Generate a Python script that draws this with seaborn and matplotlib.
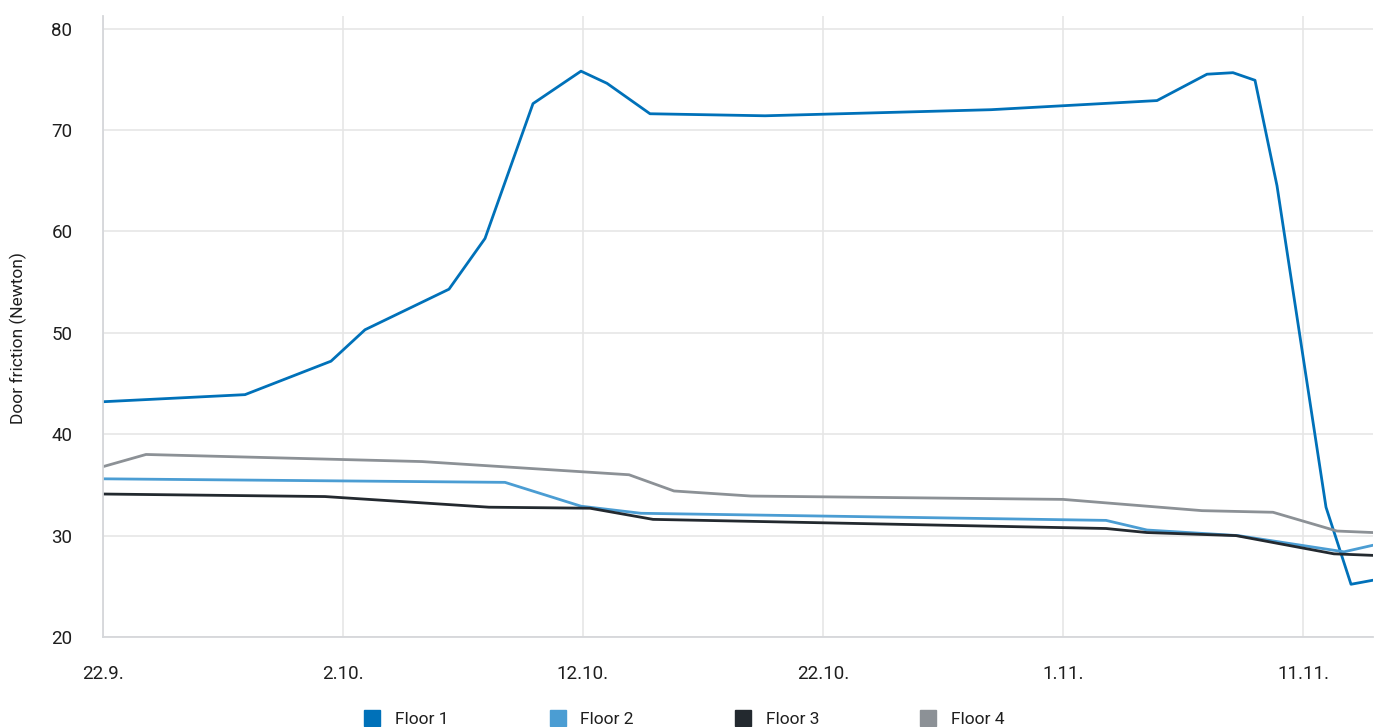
import pandas as pd
import matplotlib.pyplot as plt
from matplotlib.lines import Line2D
import seaborn as sns

# Series (date, Newton)
floor1_dates = [
    "2021-09-22 00:00", "2021-09-27 22:00", "2021-10-01 12:00", "2021-10-02 22:00",
    "2021-10-06 10:00", "2021-10-07 22:00", "2021-10-09 22:00", "2021-10-11 22:00",
    "2021-10-13 00:00", "2021-10-14 19:00", "2021-10-19 14:00", "2021-10-29 00:00",
    "2021-11-04 22:00", "2021-11-07 00:00", "2021-11-08 02:00", "2021-11-09 00:00",
    "2021-11-09 22:00", "2021-11-11 23:00", "2021-11-13 00:00", "2021-11-13 22:00",
]
floor1_values = [
    43.2, 43.9, 47.2, 50.3, 54.3, 59.3, 72.6, 75.8, 74.6, 71.6,
    71.4, 72.0, 72.9, 75.5, 75.65, 74.9, 64.5, 32.8, 25.2, 25.6,
]

floor2_dates = [
    "2021-09-22 00:00", "2021-10-08 18:00", "2021-10-11 22:00", "2021-10-14 10:00",
    "2021-11-02 19:00", "2021-11-04 12:00", "2021-11-08 07:00", "2021-11-12 17:00",
    "2021-11-13 22:00",
]
floor2_values = [35.6, 35.25, 32.9, 32.2, 31.5, 30.55, 30.0, 28.4, 29.05]

floor3_dates = [
    "2021-09-22 00:00", "2021-10-01 06:00", "2021-10-08 02:00", "2021-10-12 07:00",
    "2021-10-14 22:00", "2021-11-02 19:00", "2021-11-04 12:00", "2021-11-08 05:00",
    "2021-11-12 07:00", "2021-11-13 22:00",
]
floor3_values = [34.1, 33.85, 32.8, 32.7, 31.6, 30.7, 30.3, 30.0, 28.2, 28.05]

floor4_dates = [
    "2021-09-22 00:00", "2021-09-23 19:00", "2021-10-05 07:00", "2021-10-13 22:00",
    "2021-10-15 19:00", "2021-10-19 00:00", "2021-11-01 00:00", "2021-11-06 19:00",
    "2021-11-09 18:00", "2021-11-12 10:00", "2021-11-13 22:00",
]
floor4_values = [36.8, 38.0, 37.3, 36.0, 34.4, 33.9, 33.57, 32.46, 32.3, 30.45, 30.3]

floors = ["Floor 1", "Floor 2", "Floor 3", "Floor 4"]
colors = ["#0071b9", "#4b9dd3", "#23292f", "#8c9196"]

tick_dates = ["2021-09-22", "2021-10-02", "2021-10-12", "2021-10-22", "2021-11-01", "2021-11-11"]
tick_labels = ["22.9.", "2.10.", "12.10.", "22.10.", "1.11.", "11.11."]
y_ticks = [20, 30, 40, 50, 60, 70, 80]

# Long-form table
parts = []
for name, d, v in zip(floors,
                      [floor1_dates, floor2_dates, floor3_dates, floor4_dates],
                      [floor1_values, floor2_values, floor3_values, floor4_values]):
    parts.append(pd.DataFrame({"date": pd.to_datetime(d), "value": v, "floor": name}))
df = pd.concat(parts, ignore_index=True)

sns.set_style("white")
plt.rcParams["font.family"] = ["Roboto", "DejaVu Sans"]

fig = plt.figure(figsize=(13.78, 7.27), dpi=100)
ax = fig.add_axes([103 / 1378, 1 - 637 / 727, (1373 - 103) / 1378, (637 - 16) / 727])

palette = dict(zip(floors, colors))
sns.lineplot(data=df, x="date", y="value", hue="floor", palette=palette,
             linewidth=2.0, legend=False, ax=ax, estimator=None, sort=False)

ax.set_xlim(pd.Timestamp(floor1_dates[0]), pd.Timestamp(floor1_dates[-1]))
ax.set_ylim(20, 81.24)
ax.set_yticks(y_ticks)
ax.set_xticks(pd.to_datetime(tick_dates))
ax.set_xticklabels(tick_labels)

ax.grid(True, color="#e6e6e6", linewidth=1.2)
ax.set_axisbelow(True)
for s in ["top", "right"]:
    ax.spines[s].set_visible(False)
for s in ["left", "bottom"]:
    ax.spines[s].set_color("#d5d7da")
    ax.spines[s].set_linewidth(1.3)

ax.tick_params(axis="both", length=0, labelsize=13.5, colors="#1e1e1e")
ax.tick_params(axis="x", pad=20)
ax.tick_params(axis="y", pad=22)
ax.set_xlabel("")
ax.set_ylabel("Door friction (Newton)", fontsize=12.5, color="#1e1e1e")
ax.yaxis.set_label_coords(-0.060, 0.481)

handles = [Line2D([], [], linestyle="none", marker="s", markersize=11,
                  markerfacecolor=c, markeredgecolor=c) for c in colors]
fig.legend(handles, floors, loc="center", bbox_to_anchor=(0.497, 0.01), ncol=4,
           frameon=False, fontsize=12.5, handlelength=0.8, handletextpad=0.9,
           columnspacing=5.9, labelcolor="#1e1e1e")

fig.savefig("out.png", dpi=100)
